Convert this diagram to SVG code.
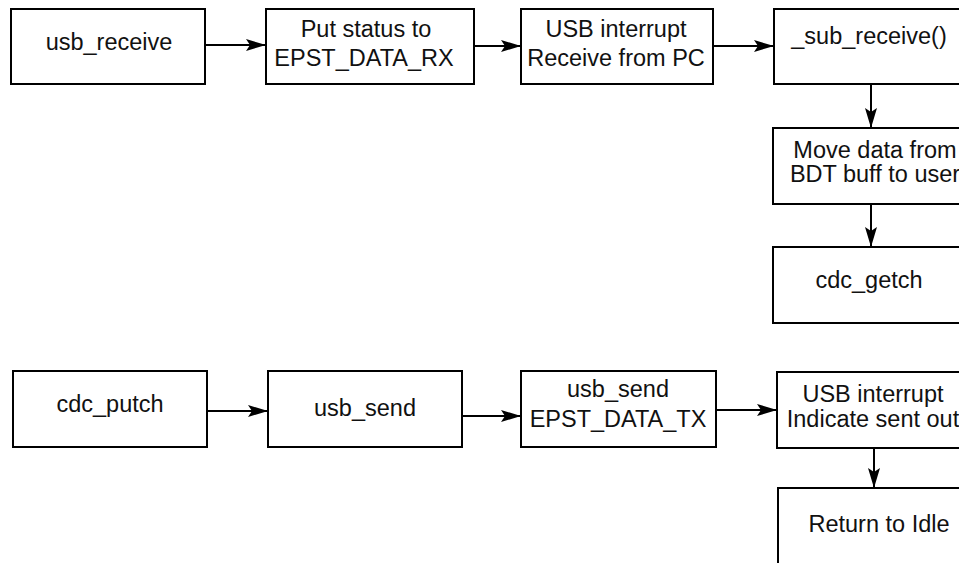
<svg xmlns="http://www.w3.org/2000/svg" width="959" height="563" viewBox="0 0 959 563">
<style>
.box{fill:#fff;stroke:#000;stroke-width:2}
.t{font-family:"Liberation Sans",Arial,Helvetica,sans-serif;font-size:23.5px;fill:#111;text-anchor:middle}
.c{stroke:#000;stroke-width:2;fill:none;marker-end:url(#ah)}
</style>
<defs>
<marker id="ah" markerUnits="userSpaceOnUse" markerWidth="20" markerHeight="12" refX="20" refY="6" orient="auto">
<path d="M0,0 L20,6 L0,12 L4,6 Z" fill="#000"/>
</marker>
</defs>
<rect width="959" height="563" fill="#fff"/>
<g id="connectors">
<line class="c" x1="205" y1="45" x2="266" y2="45"/>
<line class="c" x1="474" y1="46" x2="521" y2="46"/>
<line class="c" x1="713" y1="46" x2="774" y2="46"/>
<line class="c" x1="871" y1="84" x2="871" y2="128"/>
<line class="c" x1="871" y1="204" x2="871" y2="247"/>
<line class="c" x1="207" y1="411" x2="268" y2="411"/>
<line class="c" x1="462" y1="416" x2="521" y2="416"/>
<line class="c" x1="716" y1="410" x2="777" y2="410"/>
<line class="c" x1="874" y1="448" x2="874" y2="488"/>
</g>
<g id="usb_receive"><rect class="box" x="11" y="9" width="194" height="75"/><text class="t" x="109" y="50">usb_receive</text></g>
<g id="put_status"><rect class="box" x="266" y="9" width="208" height="75"/><text class="t" x="366" y="37">Put status to</text><text class="t" x="364" y="66">EPST_DATA_RX</text></g>
<g id="usb_interrupt_rx"><rect class="box" x="521" y="9" width="192" height="75"/><text class="t" x="616" y="37">USB interrupt</text><text class="t" x="616" y="66">Receive from PC</text></g>
<g id="sub_receive"><rect class="box" x="774" y="9" width="194" height="75"/><text class="t" x="869" y="44">_sub_receive()</text></g>
<g id="move_data"><rect class="box" x="773" y="128" width="196" height="76"/><text class="t" x="875" y="158">Move data from</text><text class="t" x="875" y="182">BDT buff to user</text></g>
<g id="cdc_getch"><rect class="box" x="773" y="247" width="196" height="76"/><text class="t" x="869" y="288">cdc_getch</text></g>
<g id="cdc_putch"><rect class="box" x="13" y="371" width="194" height="76"/><text class="t" x="110" y="412">cdc_putch</text></g>
<g id="usb_send"><rect class="box" x="268" y="371" width="194" height="76"/><text class="t" x="365" y="416">usb_send</text></g>
<g id="usb_send_tx"><rect class="box" x="521" y="371" width="195" height="76"/><text class="t" x="618" y="397">usb_send</text><text class="t" x="618" y="427">EPST_DATA_TX</text></g>
<g id="usb_interrupt_tx"><rect class="box" x="777" y="372" width="194" height="76"/><text class="t" x="873" y="402">USB interrupt</text><text class="t" x="873" y="427">Indicate sent out</text></g>
<g id="return_idle"><rect class="box" x="778" y="488" width="194" height="90"/><text class="t" x="879" y="532">Return to Idle</text></g>
</svg>
